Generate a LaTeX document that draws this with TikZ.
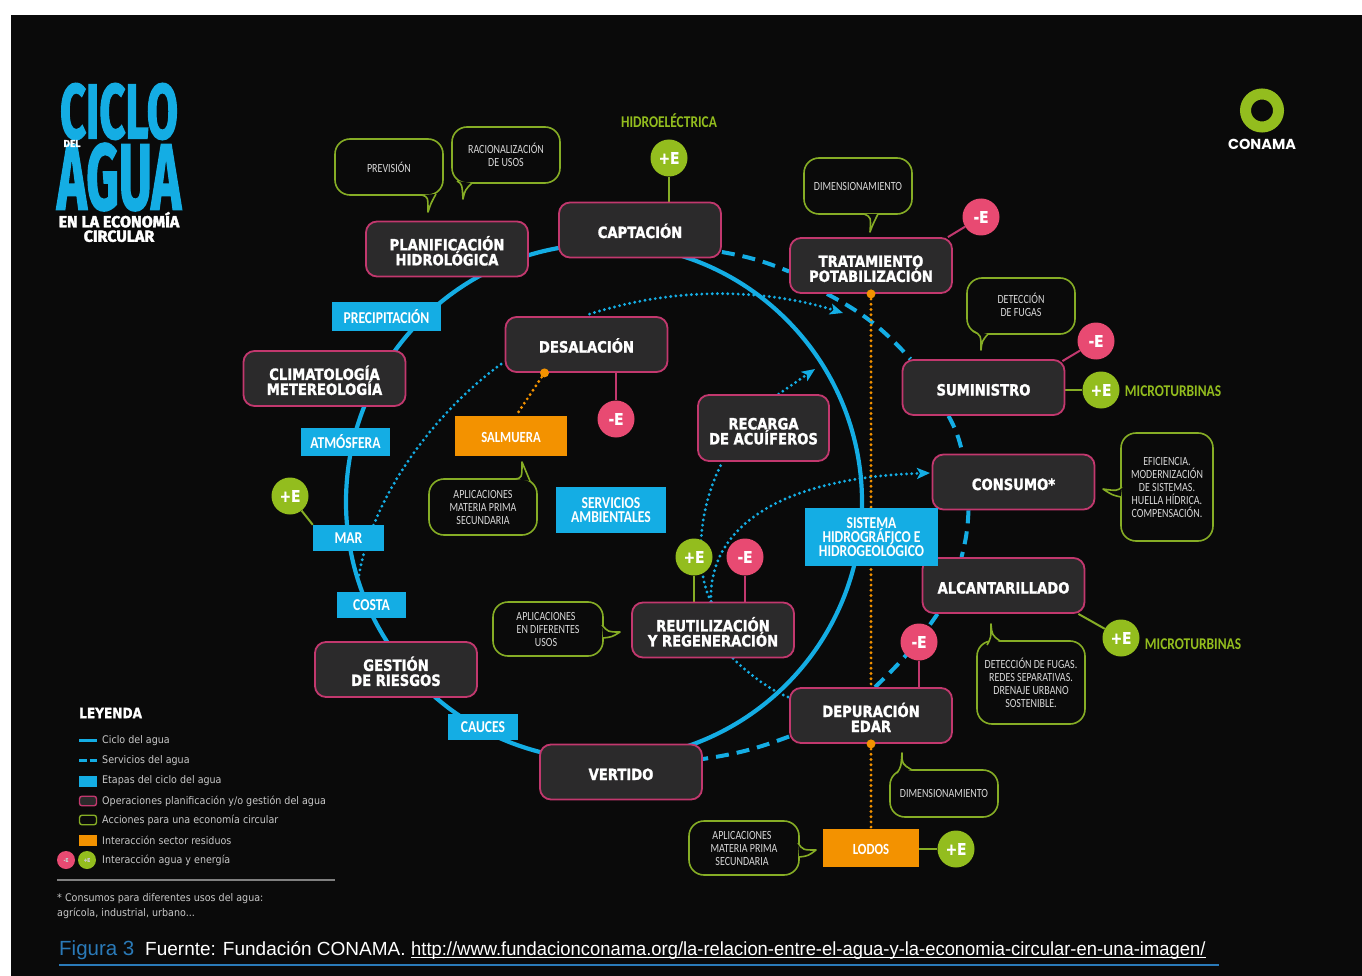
\documentclass[tikz,border=0pt]{standalone}
\usepackage{graphicx}
\usepackage{fontspec}
\usetikzlibrary{arrows.meta,calc}
\setmainfont{Liberation Sans}
\newfontfamily\ttlfont[FakeStretch=0.85,BoldFeatures={FakeBold=1.4}]{DejaVu Sans}
\newfontfamily\lblfont[FakeStretch=0.82]{Carlito}
\newfontfamily\cbfont[FakeStretch=0.80]{Carlito}
\newfontfamily\lgfont[FakeStretch=0.91]{DejaVu Sans}
\newfontfamily\hdfont[BoldFeatures={FakeBold=2.2}]{Fira Sans}
\newfontfamily\poplogo{Poppins}
\newfontfamily\urlfont[FakeStretch=0.968]{Liberation Sans}
\newcommand\Top{\rule{0pt}{18pt}}
\definecolor{bgc}{HTML}{0A0A0A}
\definecolor{opfill}{HTML}{2B2A2B}
\definecolor{pinkline}{HTML}{C2386E}
\definecolor{pinkdot}{HTML}{E84A72}
\definecolor{greenline}{HTML}{86AD25}
\definecolor{greendot}{HTML}{93BD1E}
\definecolor{aqua}{HTML}{14ADE4}
\definecolor{orng}{HTML}{F39200}
\definecolor{lgtext}{HTML}{C8C8C8}
\definecolor{figblue}{HTML}{2A7AB8}
\definecolor{calltext}{HTML}{D8D8D8}
\pgfdeclarelayer{bg}
\pgfsetlayers{bg,main}
\tikzset{
  opbox/.style={draw=pinkline,fill=opfill,line width=1.8pt,rounded corners=11pt,inner sep=0pt,text=white,align=center,
    font=\ttlfont\bfseries\fontsize{15.5}{15}\selectfont},
  oneline/.style={text height=16pt,text depth=0pt},
  stage/.style={fill=aqua,inner sep=0pt,text=white,align=center,
    font=\lblfont\bfseries\fontsize{16.6}{14.3}\selectfont},
  waste/.style={fill=orng,inner sep=0pt,text=white,align=center,text height=13pt,text depth=0pt,
    font=\lblfont\bfseries\fontsize{15.5}{14.5}\selectfont},
  acc/.style={draw=greenline,fill=bgc,line width=1.6pt,rounded corners=15pt,inner sep=0pt,text=calltext,align=center,
    font=\cbfont\fontsize{12.5}{13}\selectfont},
  minus/.style={circle,fill=pinkdot,minimum size=37pt,inner sep=0pt,text=white,
    font=\ttlfont\bfseries\fontsize{16}{16}\selectfont},
  plus/.style={circle,fill=greendot,minimum size=37pt,inner sep=0pt,text=white,
    font=\ttlfont\bfseries\fontsize{16}{16}\selectfont},
  cyc/.style={draw=aqua,line width=4.2pt},
  svc/.style={draw=aqua,line width=4pt,dash pattern=on 13pt off 8pt},
  dots/.style={draw=aqua,line width=3.2pt,line cap=round,dash pattern=on 0pt off 5.2pt},
  dotarrow/.style={dots,-{Stealth[length=13pt,width=11pt,inset=3pt,fill=aqua]}},
  odots/.style={draw=orng,line width=3.2pt,line cap=round,dash pattern=on 0pt off 5.2pt},
  gl/.style={draw=greenline,line width=2pt},
  pl/.style={draw=pinkline,line width=2pt},
  grnlabel/.style={text=greendot,inner sep=0pt,font=\lblfont\bfseries\fontsize{16.4}{15}\selectfont},
  lg/.style={anchor=west,inner sep=0pt,text=lgtext,font=\lgfont\fontsize{10.5}{12}\selectfont},
  tailline/.style={draw=greenline,line width=1.6pt,line join=round},
}
\newcommand\Tail[5]{\fill[bgc] #1 .. controls #2 .. #3 .. controls #4 .. #5 -- cycle;
  \draw[tailline] #1 .. controls #2 .. #3 .. controls #4 .. #5;}
\begin{document}
\begin{tikzpicture}[x=1pt,y=-1pt]
\useasboundingbox (0,0) rectangle (1362,976);
% main operations
\node[opbox,oneline,minimum width=162pt,minimum height=55pt] (capt) at (640,230) {CAPTACIÓN};
\node[opbox,minimum width=162pt,minimum height=55pt] (plan) at (447,249) {\Top PLANIFICACIÓN\\HIDROLÓGICA};
\node[opbox,minimum width=162pt,minimum height=55pt] (trat) at (871,265.5) {\Top TRATAMIENTO\\POTABILIZACIÓN};
\node[opbox,oneline,minimum width=162pt,minimum height=55pt] (sumi) at (983.5,387.5) {SUMINISTRO};
\node[opbox,oneline,minimum width=162pt,minimum height=55pt] (cons) at (1013.5,482) {CONSUMO*};
\node[opbox,oneline,minimum width=162pt,minimum height=55pt] (alca) at (1003.5,585.5) {ALCANTARILLADO};
\node[opbox,minimum width=162pt,minimum height=55pt] (depu) at (871,715.5) {\Top DEPURACIÓN\\EDAR};
\node[opbox,oneline,minimum width=162pt,minimum height=55pt] (vert) at (621,772) {VERTIDO};
\node[opbox,minimum width=162pt,minimum height=55pt] (gest) at (396,669.5) {\Top GESTIÓN\\DE RIESGOS};
\node[opbox,minimum width=162pt,minimum height=55pt] (clim) at (324.5,378.5) {\Top CLIMATOLOGÍA\\METEREOLOGÍA};
\node[opbox,oneline,minimum width=162pt,minimum height=55pt] (desa) at (586.5,344.5) {DESALACIÓN};
\node[opbox,minimum width=131pt,minimum height=66pt] (reca) at (763.5,428) {\Top RECARGA\\DE ACUÍFEROS};
\node[opbox,minimum width=162pt,minimum height=55pt] (reut) at (713,630) {\Top REUTILIZACIÓN\\Y REGENERACIÓN};
% stages
\node[stage,minimum width=109pt,minimum height=29pt] (prec) at (386.5,316.5) {PRECIPITACIÓN};
\node[stage,minimum width=89pt,minimum height=28pt] (atmo) at (345.5,442) {ATMÓSFERA};
\node[stage,minimum width=71pt,minimum height=26pt] (mar) at (348.5,538) {MAR};
\node[stage,minimum width=69pt,minimum height=26pt] (cost) at (371.5,605) {COSTA};
\node[stage,minimum width=70pt,minimum height=26pt] (cauc) at (483,727) {CAUCES};
\node[stage,minimum width=110pt,minimum height=46pt] (serv) at (611,510) {SERVICIOS\\AMBIENTALES};
\node[stage,minimum width=133pt,minimum height=58pt] (sist) at (871.5,537) {SISTEMA\\HIDROGRÁFICO E\\HIDROGEOLÓGICO};
% waste
\node[waste,minimum width=112pt,minimum height=40pt] (salm) at (511,436) {SALMUERA};
\node[waste,minimum width=96pt,minimum height=38pt] (lodo) at (871,848) {LODOS};
% energy
\node[plus] (ecap) at (669,158) {+E};
\node[minus] (etra) at (981,217) {-E};
\node[minus] (esum) at (1096,341) {-E};
\node[plus] (psum) at (1101,390) {+E};
\node[minus] (edes) at (616,419) {-E};
\node[plus] (pmar) at (290,496) {+E};
\node[plus] (prut) at (694,557) {+E};
\node[minus] (erut) at (745,557) {-E};
\node[minus] (edep) at (919,642) {-E};
\node[plus] (palc) at (1121,638) {+E};
\node[plus] (plod) at (956,849) {+E};
\node[grnlabel] (lhid) at (669,121) {HIDROELÉCTRICA};
\node[grnlabel] (lmi1) at (1173,391) {MICROTURBINAS};
\node[grnlabel] (lmi2) at (1193,644) {MICROTURBINAS};
% actions
\node[acc,minimum width=108pt,minimum height=56pt] (a1) at (389,167) {PREVISIÓN};
\node[acc,minimum width=108pt,minimum height=56pt] (a2) at (506,155) {RACIONALIZACIÓN\\DE USOS};
\node[acc,minimum width=108pt,minimum height=56pt] (a3) at (858,186) {DIMENSIONAMIENTO};
\node[acc,minimum width=108pt,minimum height=56pt] (a4) at (1021,306) {\raisebox{2pt}{DETECCIÓN}\\\raisebox{2pt}{DE FUGAS}};
\node[acc,minimum width=92pt,minimum height=108pt] (a5) at (1167,487) {EFICIENCIA.\\MODERNIZACIÓN\\DE SISTEMAS.\\HUELLA HÍDRICA.\\COMPENSACIÓN.};
\node[acc,minimum width=108pt,minimum height=56pt] (a6) at (483,507) {APLICACIONES\\MATERIA PRIMA\\SECUNDARIA};
\node[acc,minimum width=110pt,minimum height=54pt] (a7) at (548,629) {APLICACIONES\hspace*{4pt}\\EN DIFERENTES\hspace*{4pt}\\USOS\hspace*{4pt}};
\node[acc,minimum width=108pt,minimum height=83pt] (a8) at (1031,682.5) {DETECCIÓN DE FUGAS.\\REDES SEPARATIVAS.\\DRENAJE URBANO\\SOSTENIBLE.};
\node[acc,minimum width=108pt,minimum height=47pt] (a9) at (944,793.5) {DIMENSIONAMIENTO};
\node[acc,minimum width=110pt,minimum height=54pt] (a10) at (744,848) {APLICACIONES\hspace*{4pt}\\MATERIA PRIMA\hspace*{4pt}\\SECUNDARIA\hspace*{4pt}};
\Tail{(422,195)}{(428,197)}{(428,212)}{(431,203)}{(436,194)}
\Tail{(457,181)}{(462,184)}{(463,199)}{(465,190)}{(472,183)}
\Tail{(864,214)}{(871,217)}{(870,232)}{(873,224)}{(878,214)}
\Tail{(973,331)}{(981,335)}{(981,350)}{(982,341)}{(988,334)}
\Tail{(1122,487)}{(1117,491)}{(1103,489)}{(1112,495)}{(1121,497)}
\Tail{(515,479)}{(522,478)}{(522,462)}{(526,472)}{(530,481)}
\Tail{(602,625)}{(608,632)}{(620,632)}{(612,637)}{(603,638)}
\Tail{(987,645)}{(991,638)}{(991,624)}{(992,635)}{(1000,641)}
\Tail{(897,773)}{(901,767)}{(902,753)}{(902,764)}{(912,770)}
\Tail{(798,843)}{(803,850)}{(816,850)}{(808,856)}{(799,857)}
% title
\node[inner sep=0pt,text=aqua] (t1) at (119,111.5) {\resizebox{118pt}{55pt}{\hdfont\bfseries CICLO}};
\node[inner sep=0pt,text=aqua] (t3) at (119,177) {\resizebox{124pt}{66pt}{\hdfont\bfseries AGUA}};
\node[inner sep=0pt,text=white,font=\hdfont\bfseries\fontsize{10}{10}\selectfont] (t2) at (72,143.5) {DEL};
\node[inner sep=0pt,text=white,align=center,font=\hdfont\bfseries\fontsize{16}{14.5}\selectfont] (t4) at (119,227) {EN LA ECONOMÍA\\CIRCULAR};
% logo
\node[circle,draw=greendot,line width=11pt,minimum size=33pt,inner sep=0pt] (logo) at (1262,110.5) {};
\node[inner sep=0pt,text=white,font=\poplogo\bfseries\fontsize{14.5}{15}\selectfont] (logot) at (1262,144.5) {CONAMA};
% legend
\node[anchor=west,inner sep=0pt,text=white,font=\ttlfont\bfseries\fontsize{14.3}{14}\selectfont] (ley) at (79,713) {LEYENDA};
\node[lg] (l1) at (102,741) {Ciclo del agua};
\node[lg] (l2) at (102,761) {Servicios del agua};
\node[lg] (l3) at (102,781) {Etapas del ciclo del agua};
\node[lg] (l4) at (102,801.5) {Operaciones planificación y/o gestión del agua};
\node[lg] (l5) at (102,820) {Acciones para una economía circular};
\node[lg] (l6) at (102,840) {Interacción sector residuos};
\node[lg] (l7) at (102,860) {Interacción agua y energía};
\draw[cyc,line width=3pt] (79,740) -- (97,740);
\draw[draw=aqua,line width=3pt,dash pattern=on 7.5pt off 3pt] (79,760.5) -- (97,760.5);
\node[fill=aqua,minimum width=18pt,minimum height=11pt,inner sep=0pt] (s3) at (88,781) {};
\node[draw=pinkline,fill=opfill,line width=1.4pt,rounded corners=2.5pt,minimum width=17pt,minimum height=9.5pt,inner sep=0pt] (s4) at (88,801) {};
\node[draw=greenline,fill=bgc,line width=1.4pt,rounded corners=2.5pt,minimum width=17pt,minimum height=9.5pt,inner sep=0pt] (s5) at (88,820) {};
\node[fill=orng,minimum width=18pt,minimum height=11pt,inner sep=0pt] (s6) at (88,840) {};
\node[circle,fill=pinkdot,minimum size=18pt,inner sep=0pt,text=lgtext,font=\ttlfont\bfseries\fontsize{5}{5}\selectfont] (s7a) at (66,860) {-E};
\node[circle,fill=greendot,minimum size=18pt,inner sep=0pt,text=lgtext,font=\ttlfont\bfseries\fontsize{5}{5}\selectfont] (s7b) at (87,860) {+E};
\node[lg] (n1) at (57,898.5) {* Consumos para diferentes usos del agua:};
\node[lg] (n2) at (57,913) {agrícola, industrial, urbano...};
% caption
\node[anchor=base west,inner sep=0pt,text=figblue,font=\fontsize{20.5}{22}\selectfont] (c1) at (59,955) {Figura 3};
\node[anchor=base west,inner sep=0pt,text=white,font=\fontsize{19}{20}\selectfont] (c2) at (145,955) {Fuernte: Fundación CONAMA.};
\node[anchor=base west,inner sep=0pt,text=white,font=\urlfont\fontsize{19}{20}\selectfont] (c3) at (411,955) {http://www.fundacionconama.org/la-relacion-entre-el-agua-y-la-economia-circular-en-una-imagen/};
\draw[white,line width=.8pt] ($(c3.base west)+(0,2.5)$) -- ($(c3.base east)+(0,2.5)$);
\begin{pgfonlayer}{bg}
\fill[white] (0,0) rectangle (1362,976);
\fill[bgc] (11,15) rectangle (1362,976);
\node[circle,cyc,minimum size=516pt,inner sep=0pt] (ciclo) at (604,502) {};
% services (dashed)
\draw[svc] ($(capt.east)+(0,22)$) to[bend left=6] ($(trat.west)+(0,6)$);
\draw[svc] ($(trat.south)+(-44,0)$) to[bend left=10] ($(sumi.north)+(-73,0)$);
\draw[svc] ($(sumi.south)+(-35,0)$) to[bend left=8] ($(cons.north)+(-51,0)$);
\draw[svc] ($(cons.south)+(-45,0)$) to[bend left=6] ($(alca.north)+(-42,0)$);
\draw[svc] ($(alca.south)+(-66,0)$) to[bend left=6] ($(depu.north)+(4,0)$);
\draw[svc] ($(depu.west)+(0,21)$) to[bend left=6] ($(vert.east)+(0,-13)$);
% dotted
\coordinate (dstart) at (359,575);
\coordinate (tip1) at (843,313);
\coordinate (tip2) at (815,369);
\coordinate (tip3) at (930,473);
\draw[dots] (dstart) .. controls (372,500) and (430,415) .. ($(desa.west)+(0,17)$);
\draw[dotarrow] ($(desa.north)+(3,-2)$) .. controls (680,285) and (770,290) .. (tip1);
\draw[dots] ($(reut.north)+(-2,0)$) .. controls (695,570) and (697,510) .. ($(reca.south)+(-41,0)$);
\draw[dotarrow] ($(reca.north)+(15,0)$) -- (tip2);
\draw[dotarrow] ($(reut.north)+(-2,0)$) .. controls (708,530) and (775,478) .. (tip3);
\draw[dots] ($(reut.south)+(20,0)$) .. controls (750,675) and (770,690) .. ($(depu.west)+(0,-18)$);
% waste links
\draw[odots] (trat.south) -- (depu.north);
\draw[odots] (depu.south) -- (lodo.north);
\coordinate (saltop) at ($(salm.north)+(5,0)$);
\draw[odots] ($(desa.south)+(-42,0)$) -- (saltop);
% energy links
\draw[gl] (ecap) -- (ecap |- capt.north);
\draw[pl] (etra) -- ($(trat.north east)+(-5,0)$);
\draw[pl] (esum) -- ($(sumi.north east)+(-3,2)$);
\draw[gl] (psum) -- (psum -| sumi.east);
\draw[pl] (edes) -- (edes |- desa.south);
\draw[gl] (pmar) -- (mar.north west);
\draw[gl] (prut) -- (prut |- reut.north);
\draw[pl] (erut) -- (erut |- reut.north);
\draw[pl] (edep) -- (edep |- depu.north);
\draw[gl] (palc) -- ($(alca.south east)+(-7,0)$);
\draw[gl] (plod) -- (plod -| lodo.east);
\draw[figblue,line width=1.2pt] (59,965) -- (1219,965);
\draw[gray,line width=1.3pt] (57,880) -- (335,880);
\end{pgfonlayer}
\fill[orng] (trat.south) circle (4.5);
\fill[orng] (depu.south) circle (4.5);
\fill[orng] ($(desa.south)+(-42,0)$) circle (4.5);
\end{tikzpicture}
\end{document}
